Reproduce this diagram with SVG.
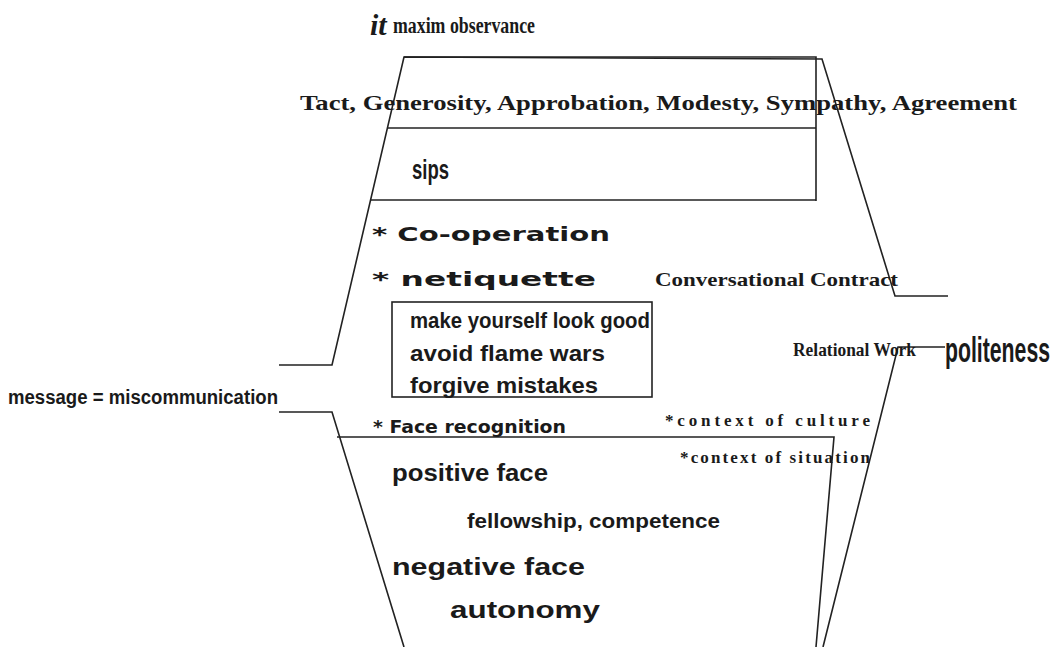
<svg xmlns="http://www.w3.org/2000/svg" width="1059" height="647" viewBox="0 0 1059 647">
<style>
.ln{fill:none;stroke:#222;stroke-width:1.6}
.serif{font-family:"Liberation Serif",serif;font-weight:bold;fill:#1a1a1a}
.sans{font-family:"Liberation Sans",Arial,sans-serif;font-weight:bold;fill:#1a1a1a}
.wide{font-family:"DejaVu Sans",sans-serif;font-weight:bold;fill:#1a1a1a}
</style>
<rect width="1059" height="647" fill="#fff"/>
<g id="connectors">
<polyline class="ln" points="279,365 332,365 404,57 822,59 895,296 948,296"/>
<polyline class="ln" points="279,412 332,412 404,647"/>
<polyline class="ln" points="945,347 898,347 823,647"/>
</g>
<g id="maxims">
<polyline class="ln" points="404,57 816,57 816,201"/>
<line class="ln" x1="388" y1="128" x2="816" y2="128"/>
<line class="ln" x1="371" y1="200" x2="816" y2="200"/>
<text class="serif" x="370" y="35" font-size="30" font-style="italic">it</text>
<text class="serif" x="393" y="33" font-size="23" textLength="142" lengthAdjust="spacingAndGlyphs">maxim observance</text>
<text class="serif" x="300" y="110" font-size="22" textLength="717" lengthAdjust="spacingAndGlyphs">Tact, Generosity, Approbation, Modesty, Sympathy, Agreement</text>
<text class="sans" x="412" y="179" font-size="28" textLength="37" lengthAdjust="spacingAndGlyphs">sips</text>
</g>
<g id="contract">
<text class="wide" x="372" y="241" font-size="20" textLength="238" lengthAdjust="spacingAndGlyphs">* Co-operation</text>
<text class="wide" x="372" y="286" font-size="20" textLength="224" lengthAdjust="spacingAndGlyphs">* netiquette</text>
<text class="serif" x="655" y="286" font-size="19" textLength="243" lengthAdjust="spacingAndGlyphs">Conversational Contract</text>
</g>
<g id="relational-box">
<rect class="ln" x="392" y="302" width="260" height="95"/>
<text class="sans" x="410" y="328" font-size="22" textLength="240" lengthAdjust="spacingAndGlyphs">make yourself look good</text>
<text class="sans" x="410" y="361" font-size="22" textLength="195" lengthAdjust="spacingAndGlyphs">avoid flame wars</text>
<text class="sans" x="410" y="393" font-size="22" textLength="188" lengthAdjust="spacingAndGlyphs">forgive mistakes</text>
<text class="serif" x="793" y="356" font-size="19" textLength="123" lengthAdjust="spacingAndGlyphs">Relational Work</text>
</g>
<g id="politeness">
<text class="sans" transform="translate(945,362) scale(0.59,1)" font-size="36">politeness</text>
</g>
<g id="message">
<text class="sans" x="8" y="404" font-size="20" textLength="270" lengthAdjust="spacingAndGlyphs">message = miscommunication</text>
</g>
<g id="face">
<polyline class="ln" points="337,437 834,437 816,647"/>
<text class="wide" x="373" y="433" font-size="18" textLength="193" lengthAdjust="spacingAndGlyphs">* Face recognition</text>
<text class="serif" x="665" y="426" font-size="17" textLength="205" lengthAdjust="spacing">*context of  culture</text>
<text class="serif" x="680" y="463" font-size="17" textLength="190" lengthAdjust="spacing">*context of situation</text>
<text class="sans" x="392" y="481" font-size="23" textLength="156" lengthAdjust="spacingAndGlyphs">positive face</text>
<text class="sans" x="467" y="528" font-size="20" textLength="253" lengthAdjust="spacingAndGlyphs">fellowship, competence</text>
<text class="sans" x="392" y="575" font-size="23" textLength="193" lengthAdjust="spacingAndGlyphs">negative face</text>
<text class="sans" x="450" y="618" font-size="24" textLength="150" lengthAdjust="spacingAndGlyphs">autonomy</text>
</g>
</svg>
